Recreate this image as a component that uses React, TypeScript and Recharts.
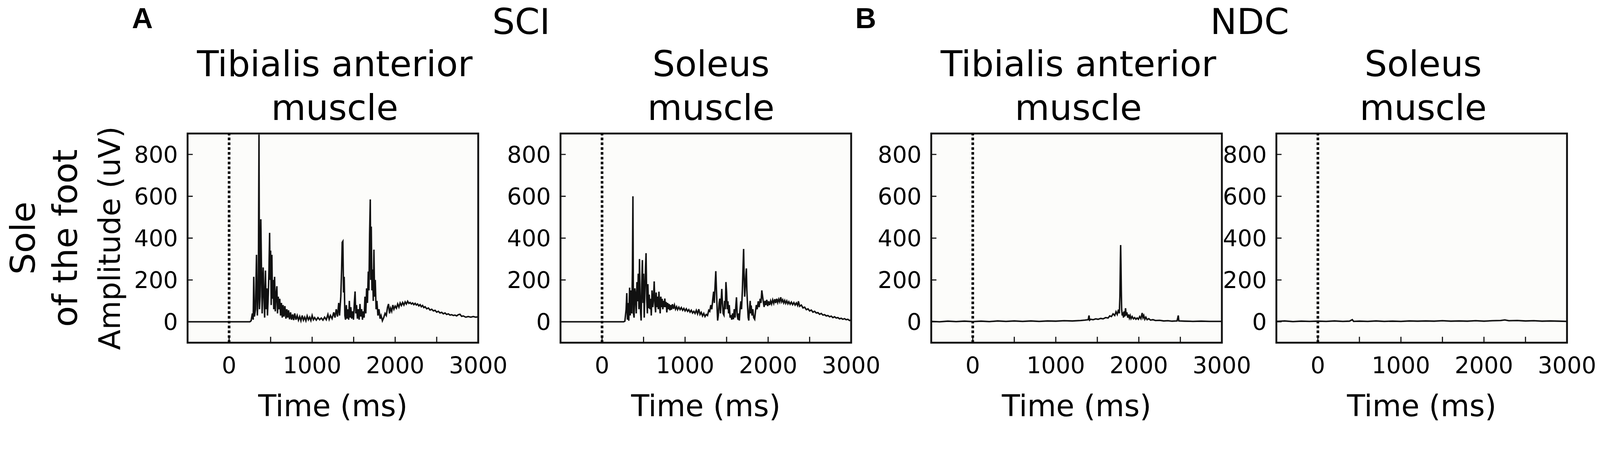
import React from 'react';
import {
  LineChart,
  Line,
  XAxis,
  YAxis,
  ReferenceLine,
  ReferenceArea,
  CartesianGrid,
} from 'recharts';

type Pt = [number, number]; // [time ms, amplitude uV]

const timeTicks = [0, 500, 1000, 1500, 2000, 2500, 3000];
const timeLabels = [0, 1000, 2000, 3000];
const ampTicks = [0, 200, 400, 600, 800];

// SCI, tibialis anterior
const taSci: Pt[] = [
  [-500, 0], [250, 0], [265, 5], [280, 40], [290, 10], [297, 215], [305, 25], [318, 60], [330, 320], [340, 30],
  [352, 150], [360, 895], [366, 60], [373, 120], [382, 490], [390, 250], [398, 40], [410, 260], [420, 120], [428, 20],
  [438, 245], [446, 60], [455, 160], [462, 30], [472, 130], [480, 250], [488, 425], [494, 200], [500, 340], [507, 80],
  [515, 320], [522, 110], [530, 200], [538, 60], [548, 215], [556, 50], [566, 130], [575, 170], [583, 40], [592, 120],
  [600, 60], [610, 110], [620, 30], [630, 90], [640, 20], [650, 80], [660, 25], [672, 75], [684, 15], [695, 60],
  [705, 20], [716, 55], [728, 12], [740, 45], [752, 10], [765, 35], [778, 8], [790, 40], [805, 10], [820, 30],
  [835, 8], [850, 25], [865, 5], [880, 30], [895, 8], [910, 22], [925, 5], [940, 28], [955, 10], [970, 22],
  [985, 6], [1000, 30], [1015, 10], [1030, 20], [1050, 8], [1070, 20], [1090, 10], [1110, 18], [1130, 8], [1150, 22],
  [1170, 10], [1190, 35], [1205, 12], [1220, 30], [1240, 15], [1260, 45], [1275, 20], [1290, 60], [1305, 25], [1320, 90],
  [1330, 30], [1345, 120], [1355, 250], [1362, 380], [1370, 385], [1378, 140], [1386, 215], [1394, 30], [1402, 10], [1412, 80],
  [1420, 15], [1432, 60], [1440, 10], [1448, 100], [1456, 20], [1466, 70], [1476, 15], [1488, 50], [1498, 10], [1508, 90],
  [1517, 145], [1525, 40], [1535, 80], [1545, 15], [1556, 60], [1566, 10], [1576, 85], [1586, 25], [1596, 60], [1606, 10],
  [1616, 50], [1626, 20], [1636, 120], [1646, 40], [1656, 160], [1666, 90], [1676, 240], [1684, 150], [1692, 420], [1700, 585],
  [1706, 200], [1712, 455], [1720, 150], [1728, 250], [1736, 100], [1744, 345], [1752, 120], [1760, 200], [1770, 60], [1780, 100],
  [1792, 30], [1805, 60], [1818, 15], [1830, 30], [1846, 5], [1862, 20], [1878, 40], [1893, 30], [1908, 70], [1920, 85],
  [1932, 40], [1945, 65], [1958, 50], [1972, 80], [1985, 60], [2000, 75], [2015, 65], [2030, 85], [2045, 70], [2060, 90],
  [2075, 78], [2090, 92], [2105, 80], [2120, 95], [2135, 85], [2150, 98], [2165, 88], [2180, 92], [2195, 85], [2210, 90],
  [2225, 82], [2240, 88], [2255, 80], [2270, 85], [2285, 76], [2300, 82], [2315, 72], [2330, 78], [2345, 68], [2360, 72],
  [2380, 62], [2400, 66], [2420, 56], [2440, 60], [2460, 52], [2480, 55], [2500, 46], [2520, 50], [2540, 42], [2560, 45],
  [2580, 38], [2600, 42], [2620, 35], [2640, 38], [2660, 32], [2680, 34], [2700, 30], [2720, 32], [2740, 28], [2760, 34],
  [2780, 36], [2800, 26], [2820, 28], [2850, 22], [2880, 25], [2910, 22], [2940, 25], [2970, 22], [3000, 24],
];

// SCI, soleus
const solSci: Pt[] = [
  [-500, 0], [260, 0], [275, 3], [290, 60], [298, 137], [306, 10], [315, 90], [322, 5], [332, 163], [340, 30],
  [348, 150], [358, 40], [366, 250], [372, 600], [378, 40], [386, 20], [395, 160], [404, 124], [412, 40], [420, 190],
  [429, 98], [436, 230], [444, 60], [451, 300], [458, 120], [465, 40], [471, 6], [478, 180], [486, 295], [494, 90],
  [500, 230], [508, 20], [516, 150], [524, 260], [530, 328], [538, 110], [546, 40], [552, 180], [560, 65], [568, 130],
  [577, 60], [585, 110], [593, 30], [602, 150], [612, 70], [621, 120], [628, 193], [636, 90], [645, 45], [652, 140],
  [660, 70], [668, 120], [677, 60], [685, 144], [693, 80], [700, 40], [708, 120], [716, 70], [724, 110], [732, 60],
  [740, 100], [748, 70], [756, 111], [764, 70], [772, 95], [780, 45], [790, 90], [799, 60], [808, 85], [818, 55],
  [827, 80], [836, 58], [848, 84], [860, 62], [872, 80], [885, 60], [898, 72], [910, 58], [925, 70], [940, 58],
  [955, 68], [970, 55], [985, 64], [1000, 52], [1015, 62], [1030, 50], [1045, 58], [1060, 46], [1075, 55], [1090, 42],
  [1105, 50], [1120, 40], [1135, 55], [1150, 38], [1165, 60], [1180, 35], [1195, 45], [1210, 28], [1225, 40], [1240, 25],
  [1255, 35], [1270, 30], [1285, 55], [1297, 50], [1310, 80], [1322, 60], [1334, 110], [1344, 144], [1352, 90], [1362, 180],
  [1370, 242], [1378, 150], [1386, 60], [1392, 6], [1400, 30], [1410, 90], [1418, 111], [1426, 40], [1434, 100], [1442, 157],
  [1450, 90], [1458, 40], [1468, 32], [1476, 100], [1484, 60], [1492, 190], [1500, 140], [1508, 60], [1516, 98], [1524, 40],
  [1532, 80], [1542, 20], [1552, 32], [1562, 10], [1572, 40], [1582, 12], [1592, 60], [1602, 20], [1612, 80], [1619, 117],
  [1628, 30], [1638, 10], [1646, 40], [1653, 6], [1662, 60], [1672, 98], [1680, 60], [1690, 150], [1698, 260], [1705, 348],
  [1712, 200], [1718, 120], [1724, 163], [1732, 220], [1738, 255], [1744, 150], [1752, 80], [1760, 20], [1767, 6], [1775, 60],
  [1784, 100], [1790, 40], [1796, 78], [1806, 30], [1816, 60], [1826, 20], [1838, 12], [1848, 50], [1858, 80], [1868, 60],
  [1881, 98], [1892, 70], [1904, 110], [1914, 90], [1924, 150], [1934, 120], [1944, 90], [1952, 71], [1962, 100], [1972, 80],
  [1984, 105], [1995, 75], [2006, 98], [2018, 80], [2030, 100], [2042, 85], [2055, 105], [2068, 88], [2080, 108], [2092, 90],
  [2104, 110], [2116, 92], [2128, 108], [2140, 95], [2152, 117], [2164, 95], [2176, 105], [2188, 90], [2200, 102], [2212, 88],
  [2225, 100], [2238, 86], [2250, 96], [2265, 84], [2280, 94], [2295, 82], [2310, 92], [2325, 80], [2340, 90], [2355, 78],
  [2365, 98], [2380, 74], [2400, 80], [2420, 66], [2440, 70], [2460, 58], [2480, 62], [2500, 52], [2520, 56], [2540, 46],
  [2560, 50], [2580, 42], [2600, 44], [2620, 36], [2640, 40], [2660, 32], [2680, 34], [2700, 28], [2720, 30], [2740, 24],
  [2760, 27], [2780, 20], [2800, 24], [2820, 18], [2840, 20], [2860, 14], [2880, 17], [2900, 12], [2920, 15], [2940, 10],
  [2960, 12], [2980, 6], [3000, 9],
];

// NDC, tibialis anterior
const taNdc: Pt[] = [
  [-500, 2], [-400, 0], [-300, 3], [-200, 1], [-100, 3], [0, 1], [100, 3], [200, 1], [300, 4], [400, 2],
  [500, 4], [600, 2], [700, 4], [800, 2], [900, 4], [1000, 3], [1100, 5], [1200, 4], [1300, 6], [1350, 8],
  [1390, 10], [1400, 30], [1408, 8], [1420, 12], [1450, 10], [1480, 14], [1510, 12], [1540, 16], [1570, 14], [1600, 20],
  [1630, 18], [1650, 28], [1670, 25], [1690, 38], [1710, 30], [1725, 48], [1740, 35], [1755, 58], [1765, 40], [1772, 120],
  [1778, 300], [1781, 367], [1785, 275], [1789, 150], [1793, 60], [1800, 30], [1808, 45], [1815, 20], [1822, 50], [1830, 25],
  [1840, 65], [1848, 30], [1856, 45], [1866, 20], [1876, 35], [1886, 18], [1896, 30], [1906, 15], [1920, 25], [1935, 14],
  [1950, 20], [1965, 12], [1980, 18], [1995, 12], [2010, 25], [2025, 15], [2040, 42], [2050, 20], [2060, 30], [2072, 12],
  [2085, 22], [2100, 10], [2120, 15], [2140, 8], [2170, 10], [2200, 6], [2250, 7], [2300, 4], [2350, 5], [2400, 3],
  [2460, 4], [2475, 30], [2482, 4], [2550, 3], [2650, 2], [2750, 3], [2850, 2], [3000, 2],
];

// NDC, soleus
const solNdc: Pt[] = [
  [-500, 2], [-400, 4], [-300, 1], [-200, 3], [-100, 2], [0, 3], [100, 2], [200, 4], [300, 2], [380, 3],
  [414, 10], [430, 2], [500, 3], [600, 2], [700, 4], [800, 2], [900, 3], [1000, 2], [1100, 4], [1200, 3],
  [1300, 4], [1400, 3], [1500, 5], [1600, 3], [1700, 4], [1800, 3], [1900, 5], [2000, 3], [2100, 5], [2200, 6],
  [2251, 9], [2300, 5], [2400, 6], [2500, 4], [2600, 5], [2700, 3], [2800, 4], [2900, 3], [3000, 2],
];

const FONT = '"DejaVu Sans", Verdana, sans-serif';
const INK = '#111';
const FIG_W = 4316;
const FIG_H = 1154;
// the photographed viewport is narrower than the window; fit the figure into it
const VIEW_SCALE = 4096 / FIG_W;
const PLOT_W = 784;
const PLOT_H = 564;
const TOP = 300;
const Y_AXIS_W = 200;
const MARGIN_TOP = 60;
const MARGIN_RIGHT = 100;
const X_AXIS_H = 230;

const panels = [
  { key: 'ta-sci', left: 506, trace: taSci, title: ['Tibialis anterior', 'muscle'], titleX: 903 },
  { key: 'sol-sci', left: 1512, trace: solSci, title: ['Soleus', 'muscle'], titleX: 1918 },
  { key: 'ta-ndc', left: 2512, trace: taNdc, title: ['Tibialis anterior', 'muscle'], titleX: 2909 },
  { key: 'sol-ndc', left: 3443, trace: solNdc, title: ['Soleus', 'muscle'], titleX: 3839 },
];

const EmgPanel = ({ left, trace }: { left: number; trace: Pt[] }) => {
  const data = trace.map(([t, v]) => ({ t, v }));
  return (
    <div style={{ position: 'absolute', left: left - Y_AXIS_W, top: TOP }}>
      <LineChart
        width={Y_AXIS_W + PLOT_W + MARGIN_RIGHT}
        height={MARGIN_TOP + PLOT_H + X_AXIS_H}
        data={data}
        margin={{ top: MARGIN_TOP, right: MARGIN_RIGHT, bottom: 0, left: 0 }}
        style={{ fontFamily: FONT }}
      >
        <CartesianGrid horizontal={false} vertical={false} fill="#fcfcfa" />
        <XAxis
          type="number"
          dataKey="t"
          domain={[-500, 3000]}
          ticks={timeTicks}
          interval={0}
          tickFormatter={(v) => (timeLabels.includes(v) ? String(v) : '')}
          tickSize={-16}
          tickMargin={54}
          axisLine={false}
          tickLine={{ stroke: INK, strokeWidth: 3 }}
          tick={{ fontSize: 62, fill: '#000' }}
          height={X_AXIS_H}
          label={{ value: 'Time (ms)', position: 'insideBottom', offset: 32, fontSize: 80, fill: '#000' }}
        />
        <YAxis
          type="number"
          domain={[-100, 900]}
          ticks={ampTicks}
          interval={0}
          width={Y_AXIS_W}
          tickSize={-14}
          tickMargin={40}
          axisLine={false}
          tickLine={{ stroke: INK, strokeWidth: 3 }}
          tick={{ fontSize: 62, fill: '#000' }}
        />
        <ReferenceArea x1={-500} x2={3000} y1={-100} y2={900} fill="none" stroke={INK} strokeWidth={5} />
        <ReferenceLine x={0} stroke="#000" strokeWidth={7} strokeDasharray="7 6" />
        <Line
          type="linear"
          dataKey="v"
          stroke={INK}
          strokeWidth={4}
          dot={false}
          isAnimationActive={false}
        />
      </LineChart>
    </div>
  );
};

const App = () => (
  <div
    style={{
      position: 'absolute',
      left: 0,
      top: 0,
      width: FIG_W,
      height: FIG_H,
      background: '#fff',
      overflow: 'hidden',
      transform: `scale(${VIEW_SCALE})`,
      transformOrigin: '0 0',
    }}
  >
    {panels.map((p) => (
      <EmgPanel key={p.key} left={p.left} trace={p.trace} />
    ))}
    <svg
      width={FIG_W}
      height={FIG_H}
      style={{ position: 'absolute', left: 0, top: 0, pointerEvents: 'none' }}
      fontFamily={FONT}
      fill="#000"
    >
      <text x={356} y={76} fontSize={78} fontWeight="bold" fontFamily='"Liberation Sans", Arial, sans-serif'>A</text>
      <text x={2307} y={76} fontSize={78} fontWeight="bold" fontFamily='"Liberation Sans", Arial, sans-serif'>B</text>
      <text x={1406} y={92} fontSize={96} textAnchor="middle">SCI</text>
      <text x={3371} y={92} fontSize={96} textAnchor="middle">NDC</text>
      {panels.map((p) => (
        <g key={p.key}>
          <text x={p.titleX} y={205} fontSize={96} textAnchor="middle">{p.title[0]}</text>
          <text x={p.titleX} y={323} fontSize={96} textAnchor="middle">{p.title[1]}</text>
        </g>
      ))}
      <text transform="translate(94,642) rotate(-90)" fontSize={92} textAnchor="middle">Sole</text>
      <text transform="translate(208,642) rotate(-90)" fontSize={92} textAnchor="middle">of the foot</text>
      <text transform="translate(324,642) rotate(-90)" fontSize={80} textAnchor="middle">Amplitude (uV)</text>
    </svg>
  </div>
);

export default App;
